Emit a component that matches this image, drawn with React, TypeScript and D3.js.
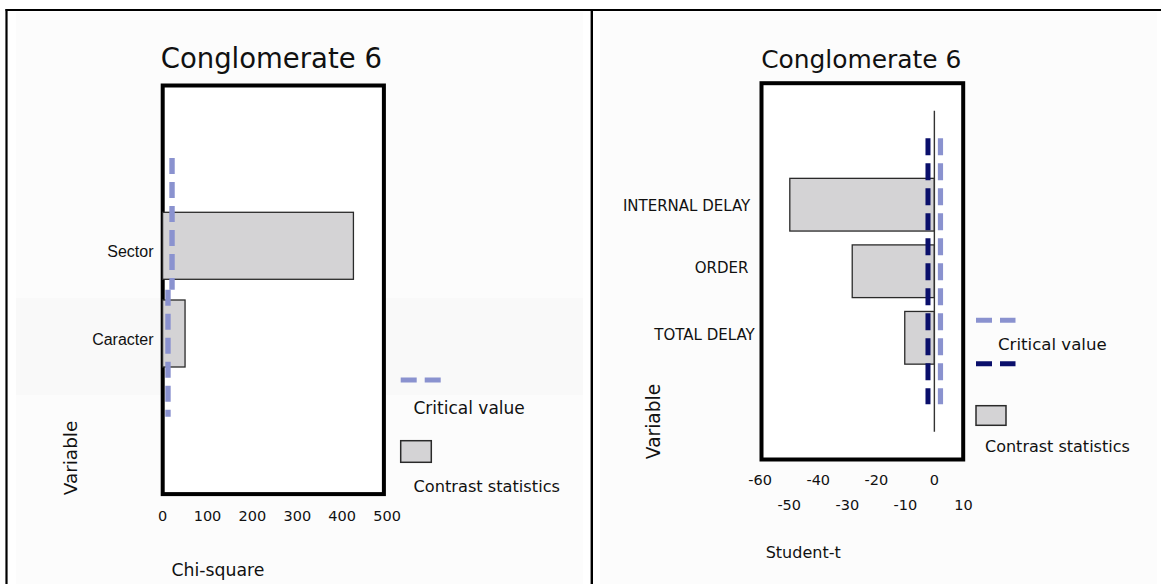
import React from "react";
import * as d3 from "d3";

// ---------- data ----------
const leftTitle = "Conglomerate 6";
const leftCategories = ["Sector", "Caracter"];
const leftValues = [425, 50];
const leftCritical = [21, 12];
const leftTicks = [0, 100, 200, 300, 400, 500];

const rightTitle = "Conglomerate 6";
const rightCategories = ["INTERNAL DELAY", "ORDER", "TOTAL DELAY"];
const rightValues = [-49.8, -28.3, -10.2];
const rightCriticalLow = -2.2;
const rightCriticalHigh = 2.1;
const rightTicksRow1 = [-60, -40, -20, 0];
const rightTicksRow2 = [-50, -30, -10, 10];

// ---------- style ----------
const GOTHIC = "'DejaVu Sans', sans-serif";
const ARIAL = "'Liberation Sans', Arial, sans-serif";
const BAR_FILL = "#d4d3d5";
const BAR_STROKE = "#2a2a2a";
const LIGHT = "#8a92cf";
const DARK = "#0a0f6b";
const DASH = "16,8";
const DASH_R = "17,8";

export default function App() {
  // left panel scales
  const xL = d3.scaleLinear().domain([0, 500]).range([162.6, 387.1]);
  const yL = d3.scalePoint<string>().domain(leftCategories).range([245.8, 333.5]);
  const stepL = yL.step();
  const barHL = 67;
  const critSpanL = [
    [-1.0, 0.5],
    [-0.5, 0.95],
  ];

  // right panel scales
  const xR = d3.scaleLinear().domain([-60, 10]).range([760.2, 963.4]);
  const yR = d3.scalePoint<string>().domain(rightCategories).range([204.7, 337.8]);
  const stepR = yR.step();
  const barHR = 52.7;
  const labelRight = [750.2, 748.4, 754.7];
  const labelDy = [6, 1.5, 2.5];
  const yFirst = yR(rightCategories[0])!;
  const yLast = yR(rightCategories[rightCategories.length - 1])!;

  return (
    <svg
      width={1161}
      height={584}
      style={{ position: "absolute", left: 0, top: 0, background: "#fff" }}
    >
      {/* panel backgrounds */}
      <rect x={16} y={12} width={567} height={572} fill="#fcfcfc" />
      <rect x={16} y={298} width={567} height={97} fill="#f9f9f9" />
      <rect x={600} y={12} width={557} height={572} fill="#fcfcfc" />

      {/* outer frame */}
      <line x1={5.5} y1={10} x2={1161} y2={10} stroke="#000" strokeWidth={2.2} />
      <line x1={6.5} y1={9} x2={6.5} y2={584} stroke="#000" strokeWidth={2.2} />
      <line x1={591.8} y1={9} x2={591.8} y2={584} stroke="#000" strokeWidth={2.4} />

      {/* ===== LEFT PANEL ===== */}
      <text x={271.3} y={68} textAnchor="middle" fontFamily={GOTHIC} fontSize={27.5} fill="#111">
        {leftTitle}
      </text>
      <rect x={162.7} y={85.5} width={221.2} height={408.6} fill="#fff" stroke="#000" strokeWidth={4} />

      {leftCategories.map((c, i) => (
        <rect
          key={c}
          x={xL(0)}
          y={yL(c)! - barHL / 2}
          width={xL(leftValues[i]) - xL(0)}
          height={barHL}
          fill={BAR_FILL}
          stroke={BAR_STROKE}
          strokeWidth={1.3}
        />
      ))}
      {leftCategories.map((c, i) => (
        <line
          key={"cv" + c}
          x1={xL(leftCritical[i])}
          x2={xL(leftCritical[i])}
          y1={yL(c)! + critSpanL[i][0] * stepL}
          y2={yL(c)! + critSpanL[i][1] * stepL}
          stroke={LIGHT}
          strokeWidth={5.4}
          strokeDasharray={DASH}
        />
      ))}
      {leftCategories.map((c) => (
        <text key={"l" + c} x={153.5} y={yL(c)! + 11} textAnchor="end" fontFamily={ARIAL} fontSize={16} fill="#111">
          {c}
        </text>
      ))}
      {leftTicks.map((t) => (
        <text key={"tl" + t} x={xL(t)} y={520.5} textAnchor="middle" fontFamily={GOTHIC} fontSize={14.5} fill="#111">
          {t}
        </text>
      ))}
      <text x={171.5} y={576} fontFamily={GOTHIC} fontSize={17.3} fill="#111">
        Chi-square
      </text>
      <text
        transform="translate(77.4,458) rotate(-90)"
        textAnchor="middle"
        fontFamily={GOTHIC}
        fontSize={18.4}
        fill="#111"
      >
        Variable
      </text>

      {/* left legend */}
      <line x1={400.7} x2={441} y1={380} y2={380} stroke={LIGHT} strokeWidth={5} strokeDasharray={DASH} />
      <text x={413.5} y={414} fontFamily={GOTHIC} fontSize={17} fill="#111">
        Critical value
      </text>
      <rect x={400.7} y={440.7} width={30.6} height={21.6} fill={BAR_FILL} stroke={BAR_STROKE} strokeWidth={1.5} />
      <text x={413.5} y={491.7} fontFamily={GOTHIC} fontSize={16.2} fill="#111">
        Contrast statistics
      </text>

      {/* ===== RIGHT PANEL ===== */}
      <text x={861.3} y={68} textAnchor="middle" fontFamily={GOTHIC} fontSize={24.9} fill="#111">
        {rightTitle}
      </text>
      <rect x={761.5} y={83.2} width={201.7} height={376.3} fill="#fff" stroke="#000" strokeWidth={4} />

      {rightCategories.map((c, i) => (
        <rect
          key={c}
          x={xR(rightValues[i])}
          y={yR(c)! - barHR / 2}
          width={xR(0) - xR(rightValues[i])}
          height={barHR}
          fill={BAR_FILL}
          stroke={BAR_STROKE}
          strokeWidth={1.3}
        />
      ))}
      <line
        x1={xR(0)}
        x2={xR(0)}
        y1={yFirst - 1.41 * stepR}
        y2={yLast + 1.41 * stepR}
        stroke="#333"
        strokeWidth={1.4}
      />
      <line
        x1={xR(rightCriticalLow)}
        x2={xR(rightCriticalLow)}
        y1={yFirst - stepR}
        y2={yLast + stepR}
        stroke={DARK}
        strokeWidth={5}
        strokeDasharray={DASH_R}
      />
      <line
        x1={xR(rightCriticalHigh)}
        x2={xR(rightCriticalHigh)}
        y1={yFirst - stepR}
        y2={yLast + stepR}
        stroke={LIGHT}
        strokeWidth={5.2}
        strokeDasharray={DASH_R}
      />
      {rightCategories.map((c, i) => (
        <text
          key={"r" + c}
          x={labelRight[i]}
          y={yR(c)! + labelDy[i]}
          textAnchor="end"
          fontFamily={GOTHIC}
          fontSize={15}
          fill="#111"
        >
          {c}
        </text>
      ))}
      {rightTicksRow1.map((t) => (
        <text key={"r1" + t} x={xR(t)} y={485} textAnchor="middle" fontFamily={GOTHIC} fontSize={14.5} fill="#111">
          {t}
        </text>
      ))}
      {rightTicksRow2.map((t) => (
        <text key={"r2" + t} x={xR(t)} y={510} textAnchor="middle" fontFamily={GOTHIC} fontSize={14.5} fill="#111">
          {t}
        </text>
      ))}
      <text x={765.7} y={558.3} fontFamily={GOTHIC} fontSize={16} fill="#111">
        Student-t
      </text>
      <text
        transform="translate(659.5,421.5) rotate(-90)"
        textAnchor="middle"
        fontFamily={GOTHIC}
        fontSize={18.6}
        fill="#111"
      >
        Variable
      </text>

      {/* right legend */}
      <line x1={976} x2={1015.5} y1={320.3} y2={320.3} stroke={LIGHT} strokeWidth={5} strokeDasharray={DASH} />
      <text x={998} y={350} fontFamily={GOTHIC} fontSize={16.6} fill="#111">
        Critical value
      </text>
      <line x1={976} x2={1015.5} y1={363.7} y2={363.7} stroke={DARK} strokeWidth={5} strokeDasharray={DASH} />
      <rect x={976} y={405.7} width={30} height={19.6} fill={BAR_FILL} stroke={BAR_STROKE} strokeWidth={1.5} />
      <text x={985} y={452} fontFamily={GOTHIC} fontSize={16} fill="#111">
        Contrast statistics
      </text>
    </svg>
  );
}
